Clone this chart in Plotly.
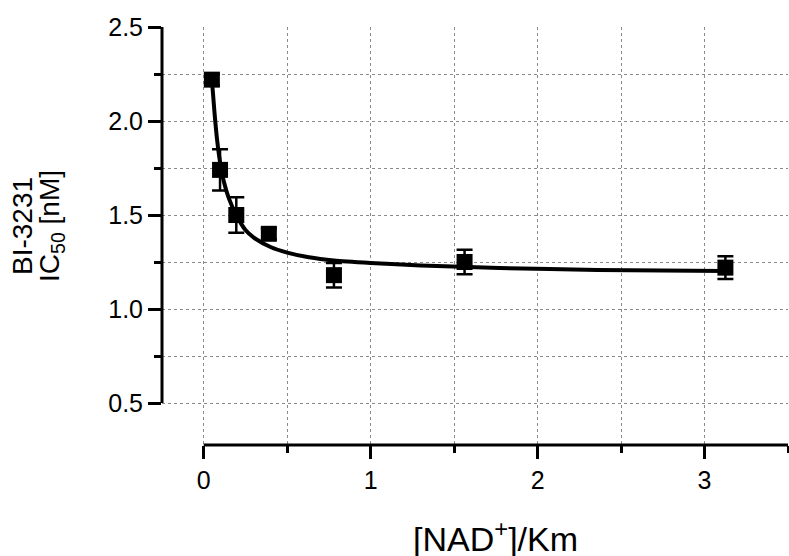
import plotly.graph_objects as go

# measured data points
nad_km = [0.0488, 0.0977, 0.195, 0.39, 0.78, 1.5625, 3.125]
ic50 = [2.22, 1.74, 1.50, 1.40, 1.18, 1.25, 1.22]
ic50_err = [0.03, 0.11, 0.095, 0.03, 0.065, 0.065, 0.06]

# fitted curve
fit_x = [0.0488, 0.065, 0.08, 0.098, 0.12, 0.15, 0.195, 0.25, 0.3, 0.4, 0.5,
         0.63, 0.78, 1.0, 1.3, 1.77, 2.36, 3.125]
fit_y = [2.22, 2.04, 1.90, 1.78, 1.68, 1.59, 1.50, 1.42, 1.38, 1.33, 1.30,
         1.275, 1.258, 1.245, 1.232, 1.218, 1.208, 1.202]

x_ticks = [0, 1, 2, 3]
y_ticks = [0.5, 1.0, 1.5, 2.0, 2.5]

FONT = "Arial, Liberation Sans, sans-serif"

fig = go.Figure()
fig.add_trace(go.Scatter(x=fit_x, y=fit_y, mode="lines",
                         line=dict(color="black", width=4, shape="spline", smoothing=0.6),
                         hoverinfo="skip", showlegend=False))
fig.add_trace(go.Scatter(x=nad_km, y=ic50, mode="markers",
                         marker=dict(symbol="square", size=16, color="black"),
                         error_y=dict(type="data", array=ic50_err, visible=True,
                                      color="black", thickness=2.5, width=8),
                         showlegend=False))

grid = dict(gridcolor="#8a8a8a", gridwidth=1, griddash="dot")

fig.update_xaxes(range=[-0.25, 3.5], showline=False, zeroline=False,
                 tickmode="array", tickvals=x_ticks, ticktext=[str(v) for v in x_ticks],
                 ticks="outside", ticklen=13, tickwidth=3, tickcolor="black",
                 minor=dict(dtick=0.5, tick0=0, ticks="outside", ticklen=7, tickwidth=3,
                            tickcolor="black", showgrid=True, **grid),
                 showgrid=True, **grid,
                 tickfont=dict(family=FONT, size=25, color="black"))
fig.update_yaxes(range=[0.2766, 2.5], showline=False, zeroline=False,
                 tickmode="array", tickvals=y_ticks, ticktext=[f"{v:.1f}" for v in y_ticks],
                 ticks="outside", ticklen=13, tickwidth=3, tickcolor="black",
                 minor=dict(dtick=0.25, tick0=0.5, ticks="outside", ticklen=7, tickwidth=3,
                            tickcolor="black", showgrid=True, **grid),
                 showgrid=True, **grid,
                 tickfont=dict(family=FONT, size=25, color="black"))

# detached axis lines (Prism style)
fig.add_shape(type="line", xref="x", yref="paper", x0=0, x1=3.5, y0=0, y1=0,
              line=dict(color="black", width=3), layer="above")
fig.add_shape(type="line", xref="paper", yref="y", x0=0, x1=0, y0=0.5, y1=2.5,
              line=dict(color="black", width=3), layer="above")

fig.add_annotation(text="BI-3231", xref="paper", yref="y",
                   x=0, y=1.5, xshift=-140, yshift=-11, textangle=-90, showarrow=False,
                   xanchor="center", yanchor="middle",
                   font=dict(family=FONT, size=28, color="black"))
fig.add_annotation(text="IC<sub>50</sub> [nM]", xref="paper", yref="y",
                   x=0, y=1.5, xshift=-111, yshift=-11, textangle=-90, showarrow=False,
                   xanchor="center", yanchor="middle",
                   font=dict(family=FONT, size=28, color="black"))
fig.add_annotation(text="[NAD<sup>+</sup>]/Km", xref="x", yref="paper",
                   x=1.75, y=0, yshift=-68, showarrow=False,
                   xanchor="center", yanchor="top",
                   font=dict(family=FONT, size=34, color="black"))

fig.update_layout(width=789, height=556, margin=dict(l=162, r=1, t=27, b=111),
                  plot_bgcolor="white", paper_bgcolor="white")

fig.write_html("out.html", config={"displayModeBar": False},
               post_script="document.body.style.margin='0px';")
